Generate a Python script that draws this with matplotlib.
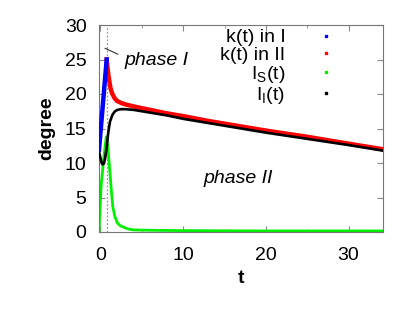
import matplotlib
matplotlib.use("Agg")
import matplotlib.pyplot as plt
from matplotlib.lines import Line2D
from matplotlib.ticker import MultipleLocator

plt.rcParams['font.family'] = ['Liberation Sans', 'DejaVu Sans']
plt.rcParams['mathtext.fontset'] = 'custom'
plt.rcParams['mathtext.rm'] = 'Liberation Sans'
plt.rcParams['mathtext.it'] = 'Liberation Sans:italic'

# k(t) in phase I (blue)
t_k1 = [-0.18, 0.75]
k1 = [11.9, 25.0]

# k(t) in phase II (red)
t_k2 = [0.75, 0.85, 0.95, 1.05, 1.2, 1.4, 1.7, 2.0, 2.5, 3, 4, 6, 8, 10, 13, 16, 20, 25, 30, 34.1]
k2 = [25.0, 23.8, 22.8, 22.0, 20.9, 20.1, 19.4, 19.0, 18.7, 18.5, 18.2, 17.7, 17.2, 16.8, 16.1, 15.5, 14.7, 13.8, 12.8, 12.0]

# I_S(t) (green)
t_s = [-0.18, -0.05, 0.1, 0.3, 0.5, 0.7, 0.8, 0.9, 1.05, 1.15, 1.35, 1.5, 1.75, 2.05, 2.4, 2.8, 3.3, 4, 6, 10, 20, 34.1]
i_s = [0.0, 3.6, 7.0, 9.5, 11.8, 13.8, 13.2, 12.3, 10.0, 8.5, 5.5, 3.6, 2.2, 1.3, 0.9, 0.7, 0.45, 0.3, 0.25, 0.2, 0.15, 0.15]

# I_I(t) (black)
t_i = [-0.18, -0.05, 0.1, 0.25, 0.4, 0.55, 0.75, 0.95, 1.15, 1.45, 1.75, 2.05, 2.5, 3, 4, 6, 8, 10, 13, 16, 20, 25, 30, 34.1]
i_i = [11.6, 11.0, 10.2, 9.8, 9.9, 10.6, 12.3, 14.5, 16.0, 17.0, 17.5, 17.7, 17.8, 17.8, 17.7, 17.3, 16.9, 16.4, 15.8, 15.2, 14.4, 13.5, 12.6, 11.8]

t_switch = 0.75
labels = ['k(t) in I', 'k(t) in II', r'I$_\mathrm{S}$(t)', r'I$_\mathrm{I}$(t)']
colors = ['#0000ff', '#ff0000', '#00f000', '#000000']

fig = plt.figure(figsize=(4.15, 3.2), dpi=100)
ax = fig.add_axes([99 / 415, 1 - 232 / 320, 283.5 / 415, 207 / 320])

ax.axvline(t_switch, color='#999999', ls=(0, (1.5, 1.5)), lw=0.9, zorder=1)
ax.plot(t_s, i_s, color=colors[2], lw=2.0, zorder=2)
ax.plot(t_i, i_i, color=colors[3], lw=1.9, zorder=3)
ax.plot(t_k1, k1, color=colors[0], lw=3.2, zorder=4)
ax.plot(t_k2, k2, color=colors[1], lw=3.2, zorder=2.5)

ax.set_xlim(-0.18, 34.1)
ax.set_ylim(0, 30)
ax.xaxis.set_major_locator(MultipleLocator(10))
ax.xaxis.set_minor_locator(MultipleLocator(5))
ax.yaxis.set_major_locator(MultipleLocator(5))
ax.tick_params(which='both', direction='in', top=True, right=True, color='#888888',
               labelsize=14)
ax.tick_params(axis='y', pad=9)
ax.tick_params(axis='x', pad=11)
ax.tick_params(which='major', length=4)
ax.tick_params(which='minor', length=2.5)
for s in ax.spines.values():
    s.set_color('#777777')
    s.set_linewidth(0.8)

ax.set_xlabel('t', fontsize=14, fontweight='bold', labelpad=4)
ax.set_ylabel('degree', fontsize=14, fontweight='bold', labelpad=7)

ax.annotate('', xy=(0.24, 26.8), xytext=(2.4, 25.6),
            arrowprops=dict(arrowstyle='-', color='#333333', lw=0.8))
ax.text(2.9, 24.9, 'phase I', fontsize=14, style='italic', va='center', ha='left')
ax.text(16.6, 7.8, 'phase II', fontsize=14, style='italic', va='center', ha='center')

handles = [Line2D([], [], ls='none', marker='s', ms=2.0, color=c, mec=c) for c in colors]
ax.legend(handles, labels, loc='upper right', bbox_to_anchor=((340 - 99) / 283.5, 1.0),
          markerfirst=False, frameon=False, fontsize=14, handlelength=1.0,
          handletextpad=1.6, labelspacing=0.0, borderpad=0.2, borderaxespad=0)

fig.savefig('out.png', dpi=100)
